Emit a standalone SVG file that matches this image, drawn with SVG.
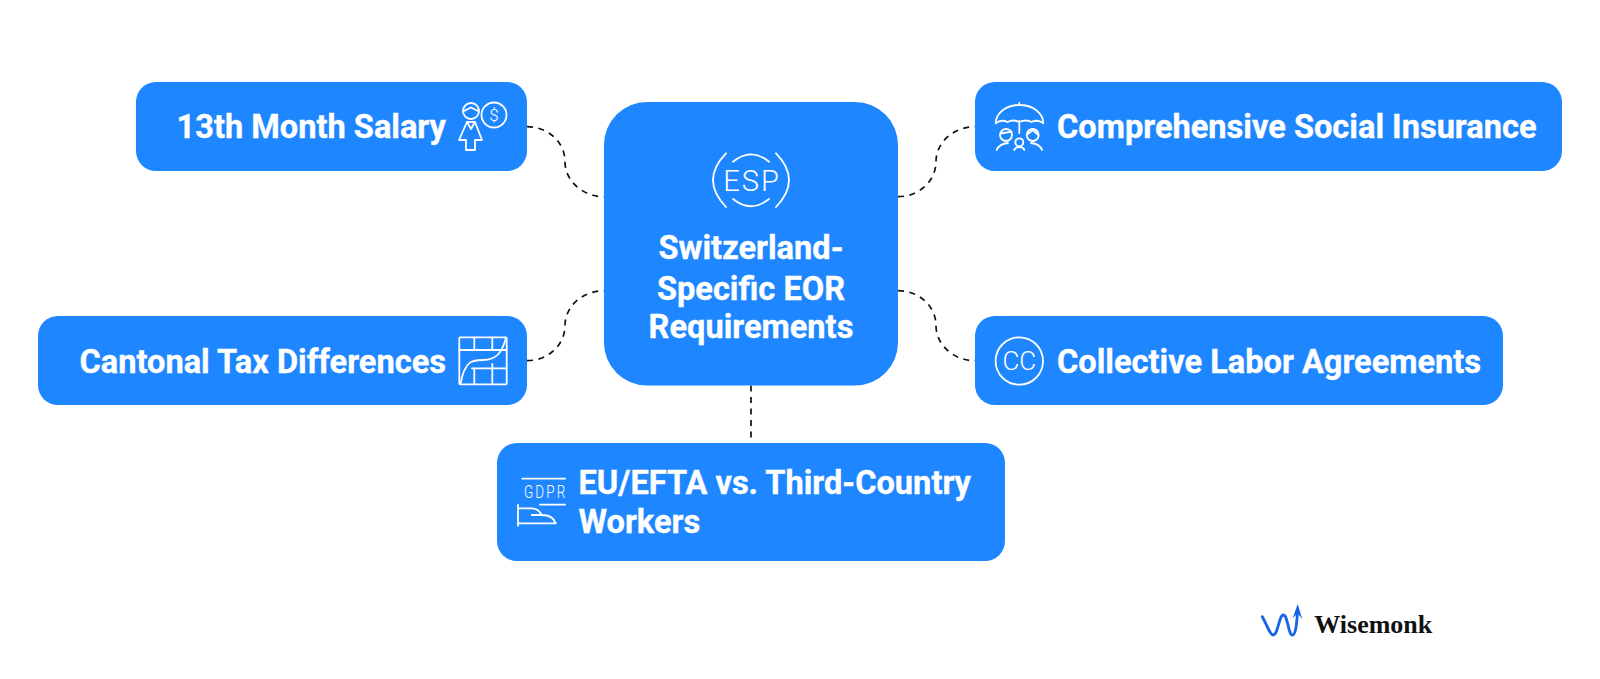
<svg xmlns="http://www.w3.org/2000/svg" width="1600" height="679" viewBox="0 0 1600 679">
<style>
.box{fill:#1E86FF}
.t{font-family:Roboto,"Liberation Sans",sans-serif;font-weight:700;font-size:32.6px;fill:#fff;stroke:#fff;stroke-width:.35px}
.c{fill:none;stroke:#111;stroke-width:1.7;stroke-dasharray:6 5.5}
.i{fill:none;stroke:#fff;stroke-width:1.8;stroke-linecap:round;stroke-linejoin:round}
.it{font-family:Roboto,"Liberation Sans",sans-serif;fill:#fff;font-weight:300}
</style>
<rect width="1600" height="679" fill="#fff"/>
<g id="connectors">
<path class="c" d="M527 126.700C548 126.700 565 142 565 161.700C565 181 583 196.700 604 196.700"/>
<path class="c" d="M898 196.700C919 196.700 936 181 936 161.700C936 142 954 126.700 975 126.700"/>
<path class="c" d="M527 360.700C548 360.700 565 345 565 325.700C565 306 583 290.700 604 290.700"/>
<path class="c" d="M898 290.700C919 290.700 936 306 936 325.700C936 345 954 360.700 975 360.700"/>
<path class="c" d="M751 385.500V443"/>
</g>
<g id="center">
<rect class="box" x="604" y="102" width="294" height="283.500" rx="43"/>
<path class="i" d="M726 153.300Q700 180 726 207M776 153.300Q802 180 776 207"/>
<path class="i" d="M733 161.700Q751 147 769 161.700M733 199Q751 213.500 769 199"/>
<text class="it" x="752" y="190.700" font-size="29" text-anchor="middle" letter-spacing="2">ESP</text>
<text class="t" x="751" y="259" text-anchor="middle">Switzerland-</text>
<text class="t" x="751" y="300" text-anchor="middle">Specific EOR</text>
<text class="t" x="751" y="338" text-anchor="middle">Requirements</text>
</g>
<g id="salary">
<rect class="box" x="136" y="82" width="391" height="89" rx="20"/>
<text class="t" x="446" y="138" text-anchor="end">13th Month Salary</text>
<circle class="i" cx="471" cy="111" r="8"/>
<path class="i" d="M464 111L468 109L471 107.500L474 109L478 111"/>
<path class="i" d="M467 122H475L482 140H475V150H466V140H459Z"/>
<path class="i" d="M467 122L471 129L475 122"/>
<circle class="i" cx="494" cy="115" r="12.500"/>
<text class="it" x="494" y="121" font-size="17" font-weight="400" text-anchor="middle">$</text>
</g>
<g id="insurance">
<rect class="box" x="975" y="82" width="587" height="89" rx="20"/>
<text class="t" x="1057" y="138">Comprehensive Social Insurance</text>
<path class="i" d="M1019.300 103V105M1019.300 121V133M1019.300 105C1006 105 996 113 995.700 123.300Q1001 119 1007.500 122Q1013 119 1019.300 122Q1026 119 1031.500 122Q1038 119 1043.300 123.300C1043 113 1033 105 1019.300 105Z"/>
<circle class="i" cx="1006" cy="135" r="6"/>
<path class="i" d="M1000.700 133.500L1011.700 131.700"/>
<circle class="i" cx="1032.700" cy="135" r="6"/>
<path class="i" d="M1026.700 135L1032.700 130L1038.300 135"/>
<circle class="i" cx="1019.300" cy="142.300" r="4"/>
<path class="i" d="M996.700 150Q999 144 1008 143M1042 150Q1040 144 1031 143M1014.300 150Q1015 147 1019.300 147Q1023.500 147 1024.300 150"/>
</g>
<g id="cantonal">
<rect class="box" x="38" y="316" width="489" height="89" rx="20"/>
<text class="t" x="446" y="373" text-anchor="end">Cantonal Tax Differences</text>
<rect class="i" x="459.300" y="337.300" width="47.400" height="47" rx="1"/>
<path class="i" d="M459.300 350H506.700M472 368.300H506.700M474.300 337.300V350M492.300 337.300V350M474.300 368.300V384.300M492.300 364V384.300"/>
<path class="i" d="M460.700 383C465 360 473 360 483 360C497 360 502 352 506 338"/>
</g>
<g id="labor">
<rect class="box" x="975" y="316" width="528" height="89" rx="20"/>
<text class="t" x="1057" y="373">Collective Labor Agreements</text>
<circle class="i" cx="1019.300" cy="361" r="23.700"/>
<text class="it" x="1019.300" y="370" font-size="26" text-anchor="middle">CC</text>
</g>
<g id="workers">
<rect class="box" x="497" y="443" width="508" height="118" rx="20"/>
<text class="t" x="578.500" y="494">EU/EFTA vs. Third-Country</text>
<text class="t" x="578.500" y="532.500">Workers</text>
<path class="i" d="M522.300 478.700H565M540 504.700H565"/>
<text class="it" transform="translate(524 498.300) scale(.72 1)" font-size="18.700" font-weight="400" letter-spacing="3">GDPR</text>
<path class="i" d="M518 505V525.700M518 508.300H531.700Q538 508 541.700 515Q553 515 555.700 523.300H518M531.700 515H541.700"/>
</g>
<g id="logo">
<path fill="none" stroke="#1763EA" stroke-width="2.800" stroke-linecap="round" stroke-linejoin="round" d="M1262.300 616.700C1267 625 1270 635 1273.300 635C1278 635 1279 615 1283.300 615C1288 615 1288 635 1292.500 635C1296 635 1297 620 1297.700 610"/>
<path fill="#1763EA" d="M1297.700 604L1302.300 619.300L1297.700 613.300L1292.700 618.300Z"/>
<text x="1314.300" y="633.300" font-family="'Liberation Serif',serif" font-weight="700" font-size="26" fill="#111">Wisemonk</text>
</g>
</svg>
